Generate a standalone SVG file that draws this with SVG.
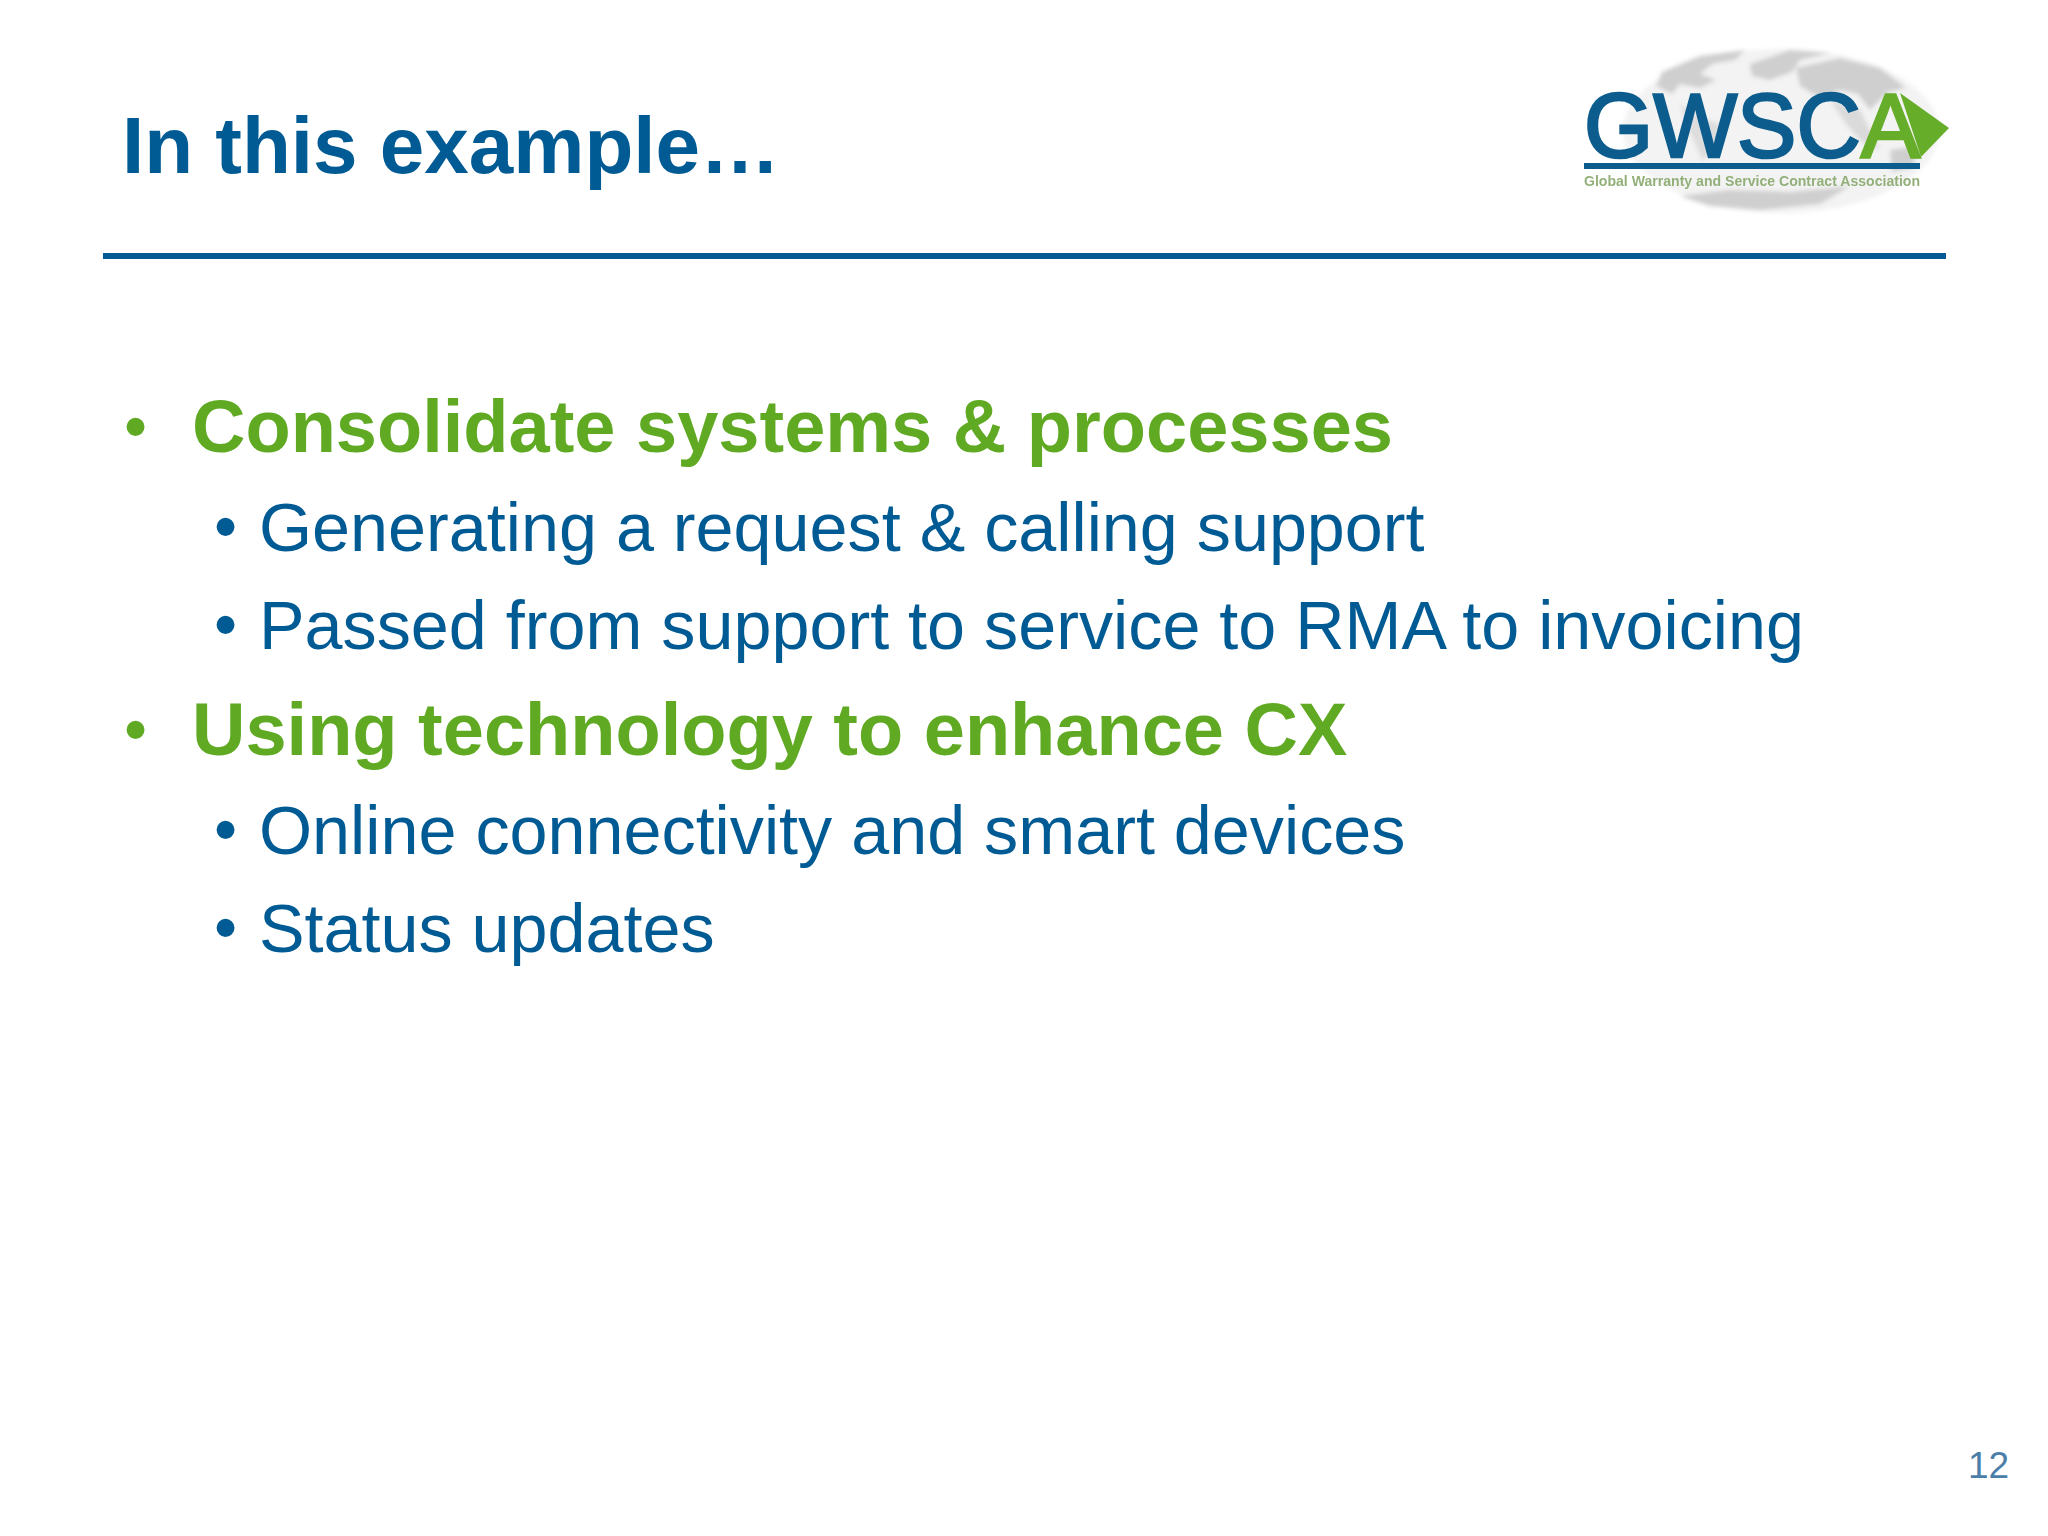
<svg xmlns="http://www.w3.org/2000/svg" width="2048" height="1536" viewBox="0 0 2048 1536">
<style>
text{font-family:"Liberation Sans",Arial,sans-serif}
.t{font-size:80px;font-weight:700;fill:#005b94}
.h{font-size:74px;font-weight:700;fill:#5faa22}
.s{font-size:68.3px;fill:#005b94}
.bh{font-size:66px;fill:#5faa22}
.bs{font-size:66px;fill:#005b94}
.map{fill:#cfcfcf}
</style>
<defs><filter id="soft" x="-5%" y="-5%" width="110%" height="110%"><feGaussianBlur stdDeviation="0.7"/></filter>
<filter id="soft2" x="-5%" y="-5%" width="110%" height="110%"><feGaussianBlur stdDeviation="2"/></filter></defs>
<rect width="2048" height="1536" fill="#fff"/>
<g id="title"><text class="t" x="122" y="173">In this example…</text>
<rect x="103" y="253" width="1843" height="6" fill="#005b94"/></g>
<g id="logo">
<g filter="url(#soft2)">
<ellipse cx="1781" cy="131" rx="158" ry="82" fill="#f3f3f3"/>
<path class="map" d="M1662 72L1700 56L1745 50L1735 60L1712 64L1700 74L1716 80L1700 88L1680 84L1672 94L1656 86Z"/>
<path class="map" d="M1750 64L1790 50L1830 53L1800 60L1792 72L1770 80L1752 76Z"/>
<path class="map" d="M1796 68L1840 58L1880 68L1906 88L1888 92L1870 110L1858 94L1840 90L1820 98L1800 86Z"/>
<path class="map" d="M1680 104L1700 118L1720 124L1716 152L1702 160L1690 132Z" fill-opacity=".6"/>
<path class="map" d="M1830 100L1860 110L1880 150L1862 142L1846 124Z" fill-opacity=".7"/>
<path class="map" d="M1680 196L1730 190L1790 192L1850 186L1820 204L1760 210L1710 206Z"/>
<path class="map" d="M1890 150L1918 146L1912 168L1892 172Z"/>
</g>
<g filter="url(#soft)">
<text x="1584" y="157" font-size="90" textLength="336" lengthAdjust="spacingAndGlyphs" stroke-width="2.6" fill="#0d5c8e" stroke="#0d5c8e">GWSC<tspan fill="#66ad2a" stroke="#66ad2a">A</tspan></text>
<polygon points="1900,93 1949,128 1921,157" fill="#66ad2a"/>
<rect x="1584" y="163" width="336" height="6" fill="#0d5c8e"/>
<text x="1584" y="186" font-size="15" font-weight="700" textLength="336" lengthAdjust="spacingAndGlyphs" fill="#93b07a">Global Warranty and Service Contract Association</text>
</g>
</g>
<g id="item1"><text class="bh" x="124" y="449">•</text><text class="h" x="192" y="452">Consolidate systems &amp; processes</text></g>
<g id="item1a"><text class="bs" x="214" y="549">•</text><text class="s" x="259" y="551">Generating a request &amp; calling support</text></g>
<g id="item1b"><text class="bs" x="214" y="647">•</text><text class="s" x="259" y="649">Passed from support to service to RMA to invoicing</text></g>
<g id="item2"><text class="bh" x="124" y="752">•</text><text class="h" x="192" y="755">Using technology to enhance CX</text></g>
<g id="item2a"><text class="bs" x="214" y="852">•</text><text class="s" x="259" y="854">Online connectivity and smart devices</text></g>
<g id="item2b"><text class="bs" x="214" y="950">•</text><text class="s" x="259" y="952">Status updates</text></g>
<text id="page" x="1968" y="1478" font-size="37" fill="#4a7ea8">12</text>
</svg>
